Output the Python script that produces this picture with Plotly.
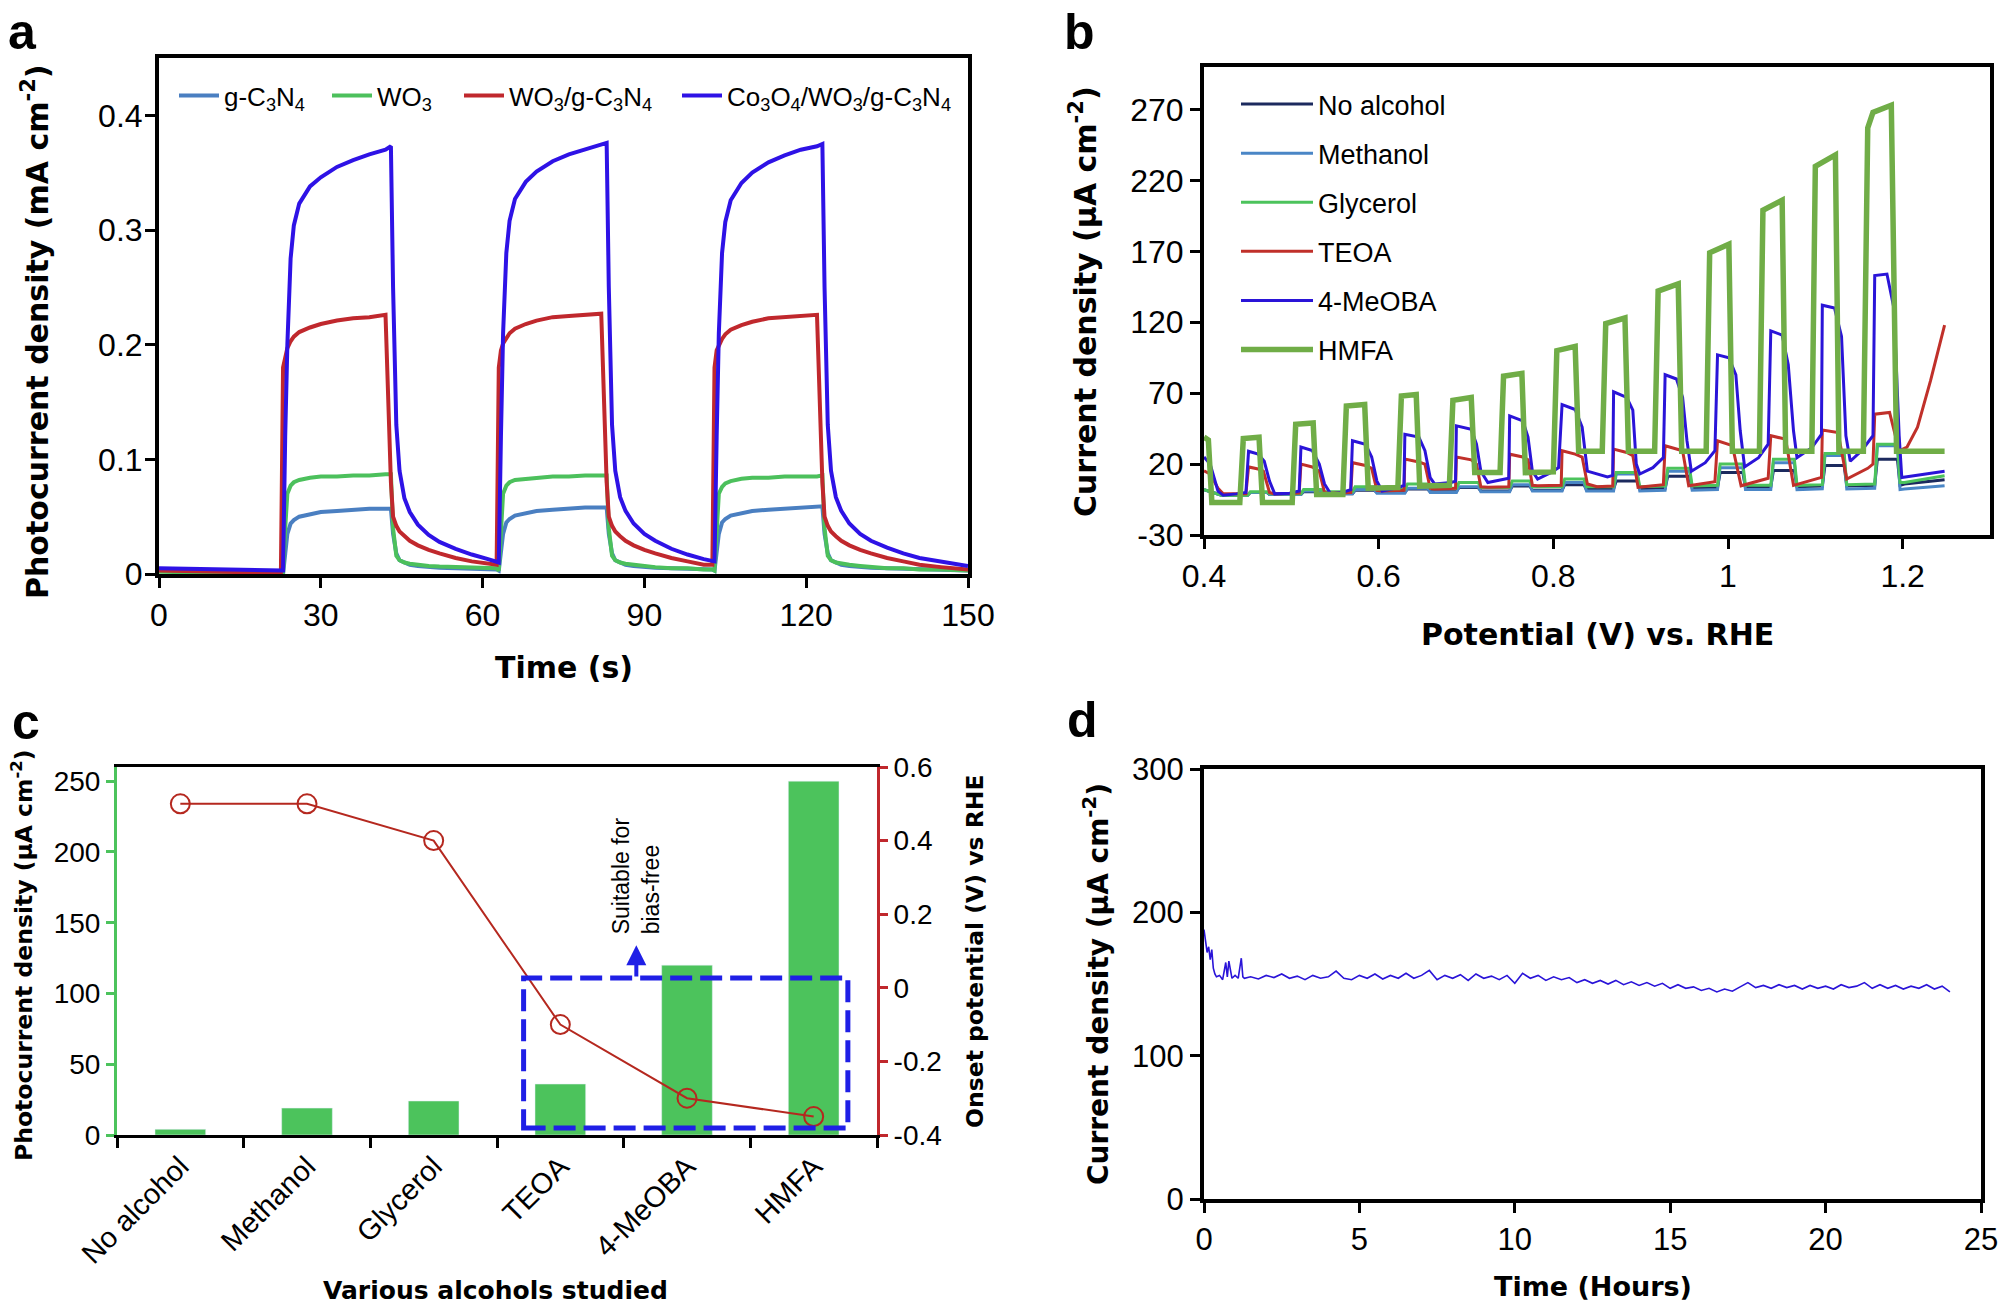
import plotly.graph_objects as go

W, H = 2000, 1304

# ---------------- Panel a : chopped photocurrent vs time ----------------
a_time = [0, 5, 10, 15, 20, 22.6,
          23.0, 23.4, 23.8, 24.4, 25, 26, 28, 30, 33, 36, 39, 42,
          43.0, 43.4, 44, 44.6, 45.5, 46.5, 48, 50, 52, 55, 58, 61, 62.6,
          63.0, 63.4, 63.8, 64.4, 65, 66, 68, 70, 73, 76, 79, 82,
          83.0, 83.4, 84, 84.6, 85.5, 86.5, 88, 90, 92, 95, 98, 101, 102.6,
          103.0, 103.4, 103.8, 104.4, 105, 106, 108, 110, 113, 116, 119, 122,
          123.0, 123.4, 124, 124.6, 125.5, 126.5, 128, 130, 132, 135, 138, 141,
          145, 150]
a_gcn = [0.003, 0.0025, 0.002, 0.0015, 0.001, 0.001,
         0.0, 0.02, 0.035, 0.044, 0.047, 0.050, 0.052, 0.054, 0.055, 0.056, 0.057, 0.057,
         0.057, 0.035, 0.018, 0.012, 0.010, 0.008, 0.007, 0.006, 0.0055, 0.005, 0.0045, 0.004, 0.004,
         0.003, 0.02, 0.035, 0.045, 0.048, 0.051, 0.053, 0.055, 0.056, 0.057, 0.058, 0.058,
         0.058, 0.035, 0.018, 0.012, 0.010, 0.008, 0.007, 0.006, 0.0055, 0.005, 0.0045, 0.004, 0.004,
         0.003, 0.02, 0.035, 0.045, 0.048, 0.051, 0.053, 0.055, 0.056, 0.057, 0.058, 0.059,
         0.059, 0.035, 0.018, 0.012, 0.010, 0.008, 0.007, 0.006, 0.0055, 0.005, 0.0045, 0.004,
         0.0035, 0.003]
a_wo3 = [0.002, 0.0015, 0.001, 0.0008, 0.0005, 0.0005,
         0.0, 0.04, 0.07, 0.077, 0.080, 0.082, 0.084, 0.085, 0.085, 0.086, 0.086, 0.087,
         0.087, 0.04, 0.016, 0.012, 0.010, 0.009, 0.008, 0.007, 0.0065, 0.006, 0.005, 0.005, 0.005,
         0.003, 0.04, 0.07, 0.077, 0.080, 0.082, 0.083, 0.084, 0.085, 0.085, 0.086, 0.086,
         0.086, 0.04, 0.016, 0.012, 0.010, 0.009, 0.008, 0.007, 0.006, 0.005, 0.005, 0.004, 0.004,
         0.003, 0.04, 0.07, 0.076, 0.079, 0.081, 0.083, 0.084, 0.084, 0.085, 0.085, 0.085,
         0.086, 0.04, 0.016, 0.012, 0.010, 0.009, 0.008, 0.007, 0.006, 0.005, 0.005, 0.004,
         0.004, 0.003]
a_wo3_gcn = [0.003, 0.0025, 0.002, 0.0015, 0.001, 0.001,
             0.18, 0.19, 0.197, 0.203, 0.207, 0.211, 0.215, 0.218, 0.221, 0.223, 0.224, 0.226,
             0.08, 0.05, 0.042, 0.037, 0.033, 0.029, 0.025, 0.021, 0.018, 0.014, 0.011, 0.009, 0.008,
             0.18, 0.195, 0.201, 0.206, 0.210, 0.214, 0.218, 0.221, 0.224, 0.225, 0.226, 0.227,
             0.08, 0.05, 0.042, 0.037, 0.033, 0.029, 0.025, 0.021, 0.018, 0.014, 0.011, 0.008, 0.008,
             0.18, 0.195, 0.200, 0.205, 0.209, 0.213, 0.217, 0.220, 0.223, 0.224, 0.225, 0.226,
             0.08, 0.05, 0.042, 0.037, 0.033, 0.029, 0.025, 0.021, 0.018, 0.014, 0.011, 0.008,
             0.006, 0.004]
a_co = [0.005, 0.0045, 0.004, 0.0035, 0.003, 0.003,
        0.003, 0.12, 0.20, 0.275, 0.304, 0.323, 0.338, 0.346, 0.355, 0.361, 0.366, 0.370,
        0.373, 0.25, 0.13, 0.09, 0.066, 0.054, 0.043, 0.034, 0.028, 0.022, 0.017, 0.013, 0.011,
        0.010, 0.12, 0.21, 0.28, 0.308, 0.327, 0.342, 0.351, 0.360, 0.366, 0.370, 0.374,
        0.376, 0.25, 0.13, 0.09, 0.067, 0.055, 0.044, 0.035, 0.029, 0.022, 0.017, 0.013, 0.012,
        0.011, 0.12, 0.21, 0.28, 0.307, 0.326, 0.341, 0.350, 0.359, 0.365, 0.370, 0.373,
        0.375, 0.25, 0.13, 0.09, 0.067, 0.055, 0.044, 0.035, 0.029, 0.023, 0.018, 0.014,
        0.011, 0.007]
a_names = ["g-C<sub>3</sub>N<sub>4</sub>", "WO<sub>3</sub>",
           "WO<sub>3</sub>/g-C<sub>3</sub>N<sub>4</sub>",
           "Co<sub>3</sub>O<sub>4</sub>/WO<sub>3</sub>/g-C<sub>3</sub>N<sub>4</sub>"]
a_colors = ["#4a7fc1", "#4cc05c", "#c0282d", "#2e12e6"]

# ---------------- Panel b : chopped LSV ----------------
b_low_v = [0.400, 0.420,
           0.450, 0.453, 0.472, 0.475, 0.511, 0.514, 0.534, 0.537,
           0.570, 0.573, 0.595, 0.598, 0.630, 0.633, 0.656, 0.659,
           0.689, 0.692, 0.714, 0.717, 0.750, 0.753, 0.773, 0.776,
           0.810, 0.813, 0.835, 0.838, 0.869, 0.872, 0.896, 0.899,
           0.928, 0.931, 0.956, 0.959, 0.988, 0.991, 1.017, 1.020,
           1.049, 1.052, 1.076, 1.079, 1.108, 1.111, 1.133, 1.136,
           1.168, 1.171, 1.194, 1.197, 1.202, 1.248]
b_noalc = [2, -2,
           -2, 0, 0, -1.5, -1.5, 0.5, 0.5, -1,
           -1, 1.5, 1.5, 0, 0, 2.5, 2.5, 0.5,
           0.5, 3.5, 3.5, 1, 1, 4.5, 4.5, 1.5,
           1.5, 5.5, 5.5, 2, 2.5, 8, 8, 2.5,
           3, 11.5, 11.5, 3, 3.5, 14, 14, 3.5,
           4, 15.5, 15.5, 4, 4.5, 19, 19, 4.5,
           5, 23.5, 23.5, 5, 6, 9]
b_methanol = [2, -2,
              -2, 0, 0, -1.5, -1.5, 1, 1, -1,
              -1, 2, 2, -0.5, -0.5, 3, 3, 0,
              0, 4, 4, 0.5, 0.5, 5.5, 5.5, 1,
              1, 7, 7, 1, 1, 13, 13, 1,
              1.5, 15, 15, 1.5, 2, 17.5, 17.5, 2,
              2, 21, 21, 2, 2.5, 26, 26, 2.5,
              3, 33, 33, 2, 2.4, 4.7]
b_glycerol = [2, -2,
              -2, 0.5, 0.5, -1, -1, 2, 2, 0.5,
              0.5, 4, 4, 2, 2, 6, 6, 3,
              3, 7, 7, 3.5, 3.5, 8, 8, 4,
              4, 9.5, 9.5, 4, 4, 14, 14, 4,
              4.5, 17, 17, 4.5, 5, 20, 20, 5,
              5, 23.5, 23.5, 5, 5.5, 27.5, 27.5, 5.5,
              6, 34, 34, 7, 7, 11.8]
b_teoa_v = [0.400, 0.407, 0.416, 0.422, 0.448,
            0.451, 0.462, 0.468, 0.475, 0.481, 0.509,
            0.511, 0.524, 0.532, 0.538, 0.545, 0.568,
            0.570, 0.585, 0.592, 0.598, 0.604, 0.629,
            0.630, 0.646, 0.653, 0.659, 0.664, 0.688,
            0.689, 0.706, 0.712, 0.717, 0.725, 0.749,
            0.750, 0.765, 0.771, 0.776, 0.782, 0.809,
            0.810, 0.825, 0.833, 0.839, 0.850, 0.868,
            0.869, 0.884, 0.891, 0.897, 0.926,
            0.928, 0.948, 0.955, 0.985,
            0.988, 1.005, 1.015, 1.046,
            1.049, 1.066, 1.075, 1.107,
            1.108, 1.126, 1.136, 1.160, 1.166,
            1.168, 1.185, 1.196, 1.205, 1.217, 1.232, 1.248]
b_teoa = [15.3, 13, 3, -1, -1,
          18, 16.5, 15, 0, -1, -0.5,
          20, 18, 15, 0, -0.5, 0,
          21, 19, 17, 1.5, 1, 1.5,
          23.5, 21.5, 20, 3, 2.4, 3,
          25, 23, 20, 4, 3.6, 4,
          27, 25, 23, 5, 4.7, 5,
          29.4, 27, 25, 6, 4, 4.5,
          30.6, 28.2, 26, 3.6, 5.5,
          32.9, 29.4, 4.7, 7.5,
          36.4, 33, 4.7, 10,
          40, 37.6, 5, 10.6,
          44, 42.3, 9.4, 17, 20,
          55.2, 56.4, 29.4, 32, 46, 79, 118]
b_meoba_v = [0.400, 0.407, 0.416, 0.422, 0.437, 0.448,
             0.451, 0.462, 0.469, 0.475, 0.481, 0.498, 0.509,
             0.511, 0.524, 0.532, 0.538, 0.545, 0.558, 0.568,
             0.570, 0.585, 0.592, 0.598, 0.604, 0.623, 0.629,
             0.630, 0.646, 0.653, 0.659, 0.664, 0.683, 0.688,
             0.689, 0.706, 0.712, 0.717, 0.725, 0.744, 0.749,
             0.750, 0.765, 0.771, 0.776, 0.782, 0.797, 0.806,
             0.810, 0.825, 0.833, 0.839, 0.850, 0.862, 0.868,
             0.869, 0.884, 0.891, 0.895, 0.899, 0.914, 0.926,
             0.928, 0.941, 0.948, 0.953, 0.958, 0.974, 0.985,
             0.988, 1.001, 1.009, 1.014, 1.019, 1.035, 1.046,
             1.049, 1.062, 1.069, 1.075, 1.079, 1.096, 1.107,
             1.108, 1.122, 1.130, 1.135, 1.140, 1.153, 1.166,
             1.168, 1.182, 1.190, 1.196, 1.199, 1.248]
b_meoba = [25, 20, 1, -2, -1, 0,
           29, 27, 22, 8, -1, -0.5, 1,
           32, 29.5, 20, 6, -1, 0, 2,
           36.5, 34, 25, 8, 1, 3.5, 5,
           41, 39, 29.5, 10.5, 6, 7, 8,
           47, 44.5, 34, 15, 7, 9.5, 10,
           54, 50.5, 39, 15, 9.5, 14, 17.5,
           62, 58.5, 46, 15, 13, 11, 12,
           71, 67, 58, 20, 13, 17.5, 24.5,
           83, 80, 67, 36.5, 15, 21, 29.5,
           97, 95, 83, 43.5, 18, 24.5, 34,
           114, 111, 90, 43.5, 24.5, 31.5, 41,
           132, 130, 110, 40, 22, 29.5, 40,
           153, 154, 130, 40, 10.5, 15]
b_hmfa_v = [0.400, 0.405, 0.409,
            0.441, 0.445, 0.463, 0.467,
            0.501, 0.505, 0.525, 0.529,
            0.559, 0.563, 0.584, 0.588,
            0.622, 0.626, 0.643, 0.647,
            0.681, 0.685, 0.706, 0.710,
            0.739, 0.743, 0.764, 0.768,
            0.800, 0.804, 0.825, 0.829,
            0.856, 0.860, 0.882, 0.886,
            0.916, 0.920, 0.943, 0.947,
            0.975, 0.979, 1.001, 1.005,
            1.036, 1.040, 1.062, 1.066,
            1.096, 1.100, 1.123, 1.127,
            1.155, 1.160, 1.166, 1.187, 1.193,
            1.248]
b_hmfa = [39, 37, -7,
          -7, 38, 39, -7,
          -7, 48, 49, -1.5,
          -1.5, 61, 62, 3,
          3.5, 68, 69, 4.5,
          5, 65, 67, 14,
          14, 82, 84, 14,
          14.5, 100, 103, 29,
          29, 119, 123, 29,
          29, 142, 147, 29,
          29, 169, 175, 29,
          29, 199, 206, 29,
          29, 230, 238, 29,
          29, 257, 268, 273, 29,
          29]
b_names = ["No alcohol", "Methanol", "Glycerol", "TEOA", "4-MeOBA", "HMFA"]
b_colors = ["#1c2a5e", "#4a86c6", "#4cc35c", "#c0302a", "#2a14d8", "#70ad47"]
b_widths = [3, 3, 3, 3, 3, 5.5]

# ---------------- Panel c : bars + onset potential ----------------
c_alcohols = ["No alcohol", "Methanol", "Glycerol", "TEOA", "4-MeOBA", "HMFA"]
c_photocurrent = [4, 19, 24, 36, 120, 250]
c_onset = [0.5, 0.5, 0.4, -0.1, -0.3, -0.35]

# ---------------- Panel d : stability ----------------
d_time = [0.0, 0.05, 0.1, 0.15, 0.2, 0.25, 0.3, 0.35, 0.4, 0.5,
          0.6, 0.7, 0.75, 0.8, 0.9, 1.0, 1.1, 1.2, 1.25, 1.3,
          1.5, 1.75, 2.0, 2.25, 2.5, 2.75, 3.0, 3.25, 3.5, 3.75,
          4.0, 4.25, 4.5, 4.75, 5.0, 5.25, 5.5, 5.75, 6.0, 6.25,
          6.5, 6.75, 7.0, 7.25, 7.5, 7.75, 8.0, 8.25, 8.5, 8.75,
          9.0, 9.25, 9.5, 9.75, 10.0, 10.25, 10.5, 10.75, 11.0, 11.25,
          11.5, 11.75, 12.0, 12.25, 12.5, 12.75, 13.0, 13.25, 13.5, 13.75,
          14.0, 14.25, 14.5, 14.75, 15.0, 15.25, 15.5, 15.75, 16.0, 16.25,
          16.5, 16.75, 17.0, 17.25, 17.5, 17.75, 18.0, 18.25, 18.5, 18.75,
          19.0, 19.25, 19.5, 19.75, 20.0, 20.25, 20.5, 20.75, 21.0, 21.25,
          21.5, 21.75, 22.0, 22.25, 22.5, 22.75, 23.0, 23.25, 23.5, 23.75,
          24.0]
d_current = [188, 180, 172, 176, 167, 174, 161, 157, 155, 156,
             153, 165, 155, 166, 154, 156, 154, 168, 155, 154,
             155, 153.5, 156, 154.5, 157, 154, 155.5, 153, 156, 154,
             155, 159, 154, 153, 156, 154, 157, 153.5, 156, 154,
             157.5, 154, 156, 159.5, 153, 156, 154, 156.5, 152.5, 157,
             154, 155.5, 153, 156, 150.5, 157.5, 154, 156, 152.5, 155,
             153, 154.5, 151, 153, 150.5, 152.5, 150, 152.5, 149.5, 151.5,
             149, 151, 148.5, 150.5, 147, 149.5, 147, 148, 145.5, 147,
             144.5, 146.5, 145, 148, 151, 147.5, 149, 147, 149.5, 147.5,
             149, 146.5, 149, 147, 148.5, 146.5, 149.5, 147.5, 148.5, 151,
             147, 149.5, 147, 149, 146.5, 148.5, 147, 149.5, 146.5, 148.5,
             144.5]

# ---------------- styling helpers ----------------
ARIAL = "Liberation Sans, Arial, sans-serif"
HEAVY = "DejaVu Sans, Liberation Sans, sans-serif"


def dx(p):
    return p / W


def dy(p):
    return 1 - p / H


def box_axis(domain, rng, size, lw=4, **kw):
    d = dict(domain=domain, range=rng, showline=True, mirror=True, linecolor="black",
             linewidth=lw, ticks="outside", ticklen=10, tickwidth=3, tickcolor="black",
             showgrid=False, zeroline=False, automargin=False,
             tickfont=dict(family=ARIAL, size=size, color="black"))
    d.update(kw)
    return d


fig = go.Figure()

# panel a traces (each entry gets its own legend box so spacing matches)
a_legends = ["legend", "legend3", "legend4", "legend5"]
a_leg_x = [174, 327, 459, 677]
for ys, nm, col, lg in zip([a_gcn, a_wo3, a_wo3_gcn, a_co], a_names, a_colors, a_legends):
    fig.add_trace(go.Scatter(x=a_time, y=ys, mode="lines", name=nm,
                             line=dict(color=col, width=4),
                             xaxis="x", yaxis="y", legend=lg))

# panel b traces
b_series = [(b_low_v, b_noalc), (b_low_v, b_methanol), (b_low_v, b_glycerol),
            (b_teoa_v, b_teoa), (b_meoba_v, b_meoba), (b_hmfa_v, b_hmfa)]
for (xs, ys), nm, col, wd in zip(b_series, b_names, b_colors, b_widths):
    fig.add_trace(go.Scatter(x=xs, y=ys, mode="lines", name=nm, legendgroup=nm,
                             line=dict(color=col, width=wd),
                             xaxis="x2", yaxis="y2", legend="legend2"))

# panel c traces
fig.add_trace(go.Bar(x=c_alcohols, y=c_photocurrent, marker_color="#4cc35c",
                     xaxis="x3", yaxis="y3", showlegend=False, width=0.4))
fig.add_trace(go.Scatter(x=c_alcohols, y=c_onset, mode="lines+markers",
                         line=dict(color="#b5281f", width=2),
                         marker=dict(symbol="circle-open", size=19, color="#b5281f",
                                     line=dict(width=2)),
                         xaxis="x3", yaxis="y4", showlegend=False))

# panel d trace
fig.add_trace(go.Scatter(x=d_time, y=d_current, mode="lines",
                         line=dict(color="#2a14d8", width=1.6),
                         xaxis="x4", yaxis="y5", showlegend=False))

GREEN = "#4cc35c"
RED = "#c0282d"

legend_a_common = dict(orientation="h", xanchor="left", yanchor="top",
                       bgcolor="rgba(0,0,0,0)",
                       font=dict(family=ARIAL, size=26, color="black"), itemwidth=40)

fig.update_layout(
    width=W, height=H, margin=dict(l=0, r=0, t=0, b=0),
    paper_bgcolor="white", plot_bgcolor="white",
    font=dict(family=ARIAL, color="black"),
    bargap=0.6,
    xaxis=box_axis([dx(159), dx(968)], [0, 150], 32, anchor="y",
                   tickvals=[0, 30, 60, 90, 120, 150]),
    yaxis=box_axis([dy(574), dy(58)], [0, 0.45], 32, anchor="x",
                   tickvals=[0, 0.1, 0.2, 0.3, 0.4],
                   ticktext=["0", "0.1", "0.2", "0.3", "0.4"], ticklabelstandoff=-4),
    xaxis2=box_axis([dx(1204), dx(1990)], [0.4, 1.3], 32, anchor="y2",
                    tickvals=[0.4, 0.6, 0.8, 1.0, 1.2],
                    ticktext=["0.4", "0.6", "0.8", "1", "1.2"]),
    yaxis2=box_axis([dy(535), dy(67)], [-30, 300], 32, anchor="x2",
                    tickvals=[-30, 20, 70, 120, 170, 220, 270],
                    ticktext=["-30", "20", "70", "120", "170", "220", "270"]),
    xaxis3=dict(domain=[dx(117), dx(877)], anchor="y3", type="category",
                showline=True, mirror=True, linecolor="black", linewidth=3,
                ticks="outside", tickson="boundaries", ticklen=10, tickwidth=3,
                tickcolor="black", tickangle=-45, showgrid=False, zeroline=False,
                automargin=False, tickfont=dict(family=ARIAL, size=29, color="black")),
    yaxis3=dict(domain=[dy(1135), dy(767)], anchor="x3", range=[0, 260],
                tickvals=[0, 50, 100, 150, 200, 250],
                showline=True, linecolor=GREEN, linewidth=3, ticks="outside",
                ticklen=8, tickwidth=3, tickcolor=GREEN, showgrid=False,
                zeroline=False, automargin=False,
                tickfont=dict(family=ARIAL, size=28, color="black")),
    yaxis4=dict(domain=[dy(1135), dy(767)], anchor="x3", overlaying="y3", side="right",
                range=[-0.4, 0.6], tickvals=[-0.4, -0.2, 0, 0.2, 0.4, 0.6],
                ticktext=["-0.4", "-0.2", "0", "0.2", "0.4", "0.6"],
                showline=True, linecolor=RED, linewidth=3, ticks="outside",
                ticklen=8, tickwidth=3, tickcolor=RED, showgrid=False,
                zeroline=False, automargin=False,
                tickfont=dict(family=ARIAL, size=28, color="black")),
    xaxis4=box_axis([dx(1204), dx(1981)], [0, 25], 31, anchor="y5",
                    tickvals=[0, 5, 10, 15, 20, 25]),
    yaxis5=box_axis([dy(1199), dy(769)], [0, 300], 31, anchor="x4",
                    tickvals=[0, 100, 200, 300]),
    legend=dict(x=dx(a_leg_x[0]), y=dy(72), **legend_a_common),
    legend3=dict(x=dx(a_leg_x[1]), y=dy(72), **legend_a_common),
    legend4=dict(x=dx(a_leg_x[2]), y=dy(72), **legend_a_common),
    legend5=dict(x=dx(a_leg_x[3]), y=dy(72), **legend_a_common),
    legend2=dict(orientation="v", x=dx(1236), y=dy(80), xanchor="left", yanchor="top",
                 bgcolor="rgba(0,0,0,0)", font=dict(family=ARIAL, size=27, color="black"),
                 itemwidth=72, tracegroupgap=11),
)

# dashed box and arrow in panel c
fig.add_shape(type="rect", xref="x3", yref="y3", x0=2.71, x1=5.27, y0=5, y1=111,
              line=dict(color="#1f1fe6", width=5, dash="22px,8px"), layer="above")

annotations = [
    dict(x=3.6, y=134, ax=3.6, ay=111, xref="x3", yref="y3", axref="x3", ayref="y3",
         text="", showarrow=True, arrowhead=2, arrowsize=1, arrowwidth=4,
         arrowcolor="#1f1fe6"),
    dict(x=3.6, y=183, xref="x3", yref="y3", text="Suitable for<br>bias-free",
         textangle=-90, showarrow=False, align="left",
         font=dict(family=ARIAL, size=23, color="black")),
]

# panel letters
for txt, x, y in [("a", 6, 32), ("b", 1062, 32), ("c", 10, 722), ("d", 1065, 720)]:
    annotations.append(dict(x=dx(x), y=dy(y), xref="paper", yref="paper", text=f"<b>{txt}</b>",
                            xanchor="left", yanchor="middle", showarrow=False,
                            font=dict(family=ARIAL, size=50, color="black")))

# axis titles
titles = [
    ("<b>Photocurrent density (mA cm<sup>-2</sup>)</b>", 36, 332, -90, 30),
    ("<b>Time (s)</b>", 564, 667, 0, 30),
    ("<b>Current density (μA cm<sup>-2</sup>)</b>", 1083, 302, -90, 30),
    ("<b>Potential (V) vs. RHE</b>", 1597, 634, 0, 30),
    ("<b>Photocurrent density (μA cm<sup>-2</sup>)</b>", 22, 955, -90, 23.5),
    ("<b>Onset potential (V) vs RHE</b>", 975, 952, -90, 23.5),
    ("<b>Various alcohols studied</b>", 495, 1290, 0, 25),
    ("<b>Current density (μA cm<sup>-2</sup>)</b>", 1096, 984, -90, 28),
    ("<b>Time (Hours)</b>", 1593, 1286, 0, 27),
]
for txt, x, y, ang, sz in titles:
    annotations.append(dict(x=dx(x), y=dy(y), xref="paper", yref="paper", text=txt,
                            textangle=ang, xanchor="center", yanchor="middle",
                            showarrow=False,
                            font=dict(family=HEAVY, size=sz, color="black")))

fig.update_layout(annotations=annotations)

fig.write_html("out.html")
